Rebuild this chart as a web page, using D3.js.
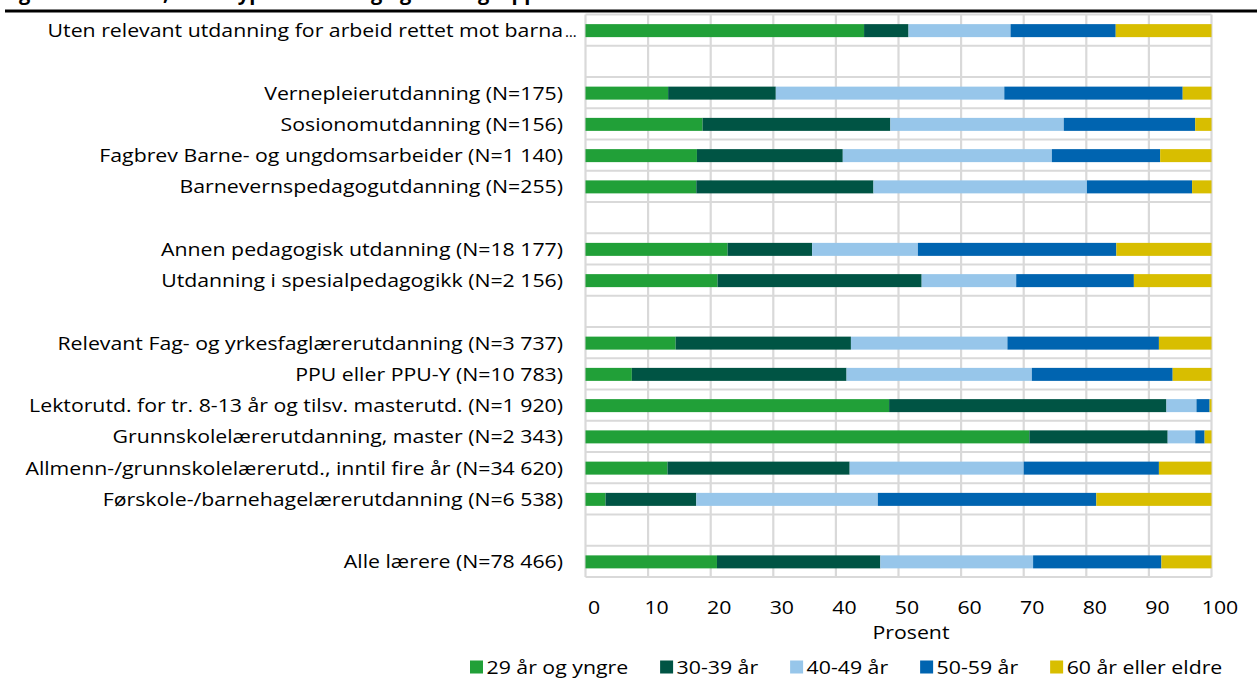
<!DOCTYPE html>
<html>
<head>
<meta charset="utf-8">
<script src="https://cdn.jsdelivr.net/npm/d3@7"></script>
<style>
  html, body { margin: 0; padding: 0; background: #fff; }
  svg { display: block; font-family: "Open Sans", sans-serif; }
</style>
</head>
<body>
<svg id="chart" width="1257" height="688"></svg>
<script>
// ---- DATA ----
const titleText = "Figur 4.3 Lærere, etter type utdanning og aldersgruppe";
const categories = [
  "Uten relevant utdanning for arbeid rettet mot barna",
  "",
  "Vernepleierutdanning (N=175)",
  "Sosionomutdanning (N=156)",
  "Fagbrev Barne- og ungdomsarbeider (N=1 140)",
  "Barnevernspedagogutdanning (N=255)",
  "",
  "Annen pedagogisk utdanning (N=18 177)",
  "Utdanning i spesialpedagogikk (N=2 156)",
  "",
  "Relevant Fag- og yrkesfaglærerutdanning (N=3 737)",
  "PPU eller PPU-Y (N=10 783)",
  "Lektorutd. for tr. 8-13 år og tilsv. masterutd. (N=1 920)",
  "Grunnskolelærerutdanning, master (N=2 343)",
  "Allmenn-/grunnskolelærerutd., inntil fire år (N=34 620)",
  "Førskole-/barnehagelærerutdanning (N=6 538)",
  "",
  "Alle lærere (N=78 466)"
];
const seriesNames = ["29 år og yngre", "30-39 år", "40-49 år", "50-59 år", "60 år eller eldre"];
const s29  = [44.5, null, 13.2, 18.7, 17.8, 17.7, null, 22.7, 21.1, null, 14.4,  7.4, 48.5, 70.9, 13.1,  3.2, null, 21.0];
const s30  = [ 7.1, null, 17.2, 30.0, 23.3, 28.3, null, 13.5, 32.6, null, 28.0, 34.3, 44.3, 22.1, 29.1, 14.5, null, 26.1];
const s40  = [16.3, null, 36.5, 27.7, 33.4, 34.1, null, 16.9, 15.1, null, 25.0, 29.6,  4.8,  4.4, 27.8, 29.0, null, 24.4];
const s50  = [16.8, null, 28.5, 21.0, 17.3, 16.8, null, 31.7, 18.8, null, 24.2, 22.5,  2.1,  1.5, 21.6, 34.9, null, 20.5];
const s60  = [15.3, null,  4.6,  2.6,  8.2,  3.1, null, 15.2, 12.4, null,  8.4,  6.2,  0.3,  1.1,  8.4, 18.4, null,  8.0];
const xTicks = [0, 10, 20, 30, 40, 50, 60, 70, 80, 90, 100];
const xAxisTitle = "Prosent";
const colors = ["#21a038", "#005444", "#97c6ea", "#0064b0", "#d8be00"];

// ---- LAYOUT ----
const svg = d3.select("#chart");
const plot = { left: 585.5, right: 1211.5, top: 14.5, bottom: 577 };
const gridColor = "#d9d9d9";
const FS = 19;      // font size
const SX = 1.12;    // horizontal glyph stretch to match reference

const x = d3.scaleLinear().domain([0, 100]).range([plot.left, plot.right]);
const y = d3.scaleBand().domain(d3.range(categories.length)).range([plot.top, plot.bottom]).paddingInner(0).paddingOuter(0);
const barH = 13;

function addText(parent, tx, ty, str, anchor, size, weight) {
  return parent.append("text")
    .attr("transform", `translate(${tx},${ty}) scale(${SX},1)`)
    .attr("text-anchor", anchor || "start")
    .attr("font-size", size || FS)
    .attr("font-weight", weight || "normal")
    .attr("fill", "#000")
    .text(str);
}

// title (clipped at top like the reference: only the descenders show)
svg.append("text").attr("x", 2).attr("y", 0)
  .attr("font-size", 20).attr("font-weight", "bold").attr("fill", "#000")
  .text(titleText);
svg.append("line").attr("x1", 5).attr("x2", 1257).attr("y1", 11).attr("y2", 11)
  .attr("stroke", "#000").attr("stroke-width", 3);

// grid
const g = svg.append("g");
g.selectAll("line.v").data(xTicks).join("line").attr("class", "v")
  .attr("x1", d => x(d)).attr("x2", d => x(d))
  .attr("y1", plot.top).attr("y2", plot.bottom)
  .attr("stroke", gridColor).attr("stroke-width", 2.2);
g.selectAll("line.h").data(d3.range(categories.length + 1)).join("line").attr("class", "h")
  .attr("x1", plot.left).attr("x2", plot.right)
  .attr("y1", d => d < categories.length ? y(d) : plot.bottom)
  .attr("y2", d => d < categories.length ? y(d) : plot.bottom)
  .attr("stroke", gridColor).attr("stroke-width", 2.2);

// stacked bars
const rows = categories.map((c, i) => ({
  i, s0: s29[i], s1: s30[i], s2: s40[i], s3: s50[i], s4: s60[i]
})).filter(r => r.s0 !== null);
const stack = d3.stack().keys(["s0", "s1", "s2", "s3", "s4"]);
const stacked = stack(rows);
svg.append("g").selectAll("g").data(stacked).join("g")
  .attr("fill", (d, k) => colors[k])
  .selectAll("rect").data(d => d).join("rect")
  .attr("x", d => x(d[0]))
  .attr("width", d => x(d[1]) - x(d[0]))
  .attr("y", d => y(d.data.i) + y.bandwidth() / 2 - barH / 2 + 0.5)
  .attr("height", barH);

// category labels
const labelX = 563;
const lg = svg.append("g");
categories.forEach((c, i) => {
  if (c) addText(lg, labelX, y(i) + y.bandwidth() / 2 + 7, c, "end");
});
// ellipsis after the truncated first label
svg.append("text").attr("x", labelX + 2).attr("y", y(0) + y.bandwidth() / 2 + 7)
  .attr("font-size", 15).attr("fill", "#000").text("…");

// x axis labels
const axis = d3.axisBottom(x).tickValues(xTicks).tickSize(0).tickPadding(0);
const ax = svg.append("g").attr("transform", `translate(8, ${plot.bottom + 23})`).call(axis);
ax.select(".domain").remove();
ax.selectAll("text").attr("font-size", FS).attr("fill", "#000")
  .attr("font-family", "Open Sans, sans-serif").attr("dy", "0.72em")
  .attr("transform", `scale(${SX},1)`).attr("x", 0);
addText(svg, 911, 639, xAxisTitle, "middle");

// legend
const leg = svg.append("g");
let lx = 470;
const ly = 667;
seriesNames.forEach((name, k) => {
  leg.append("rect").attr("x", lx).attr("y", ly - 6.5).attr("width", 13).attr("height", 13).attr("fill", colors[k]);
  const t = addText(leg, lx + 16.5, ly + 7, name, "start");
  lx += 16.5 + t.node().getComputedTextLength() * SX + 32;
});
</script>
</body>
</html>
